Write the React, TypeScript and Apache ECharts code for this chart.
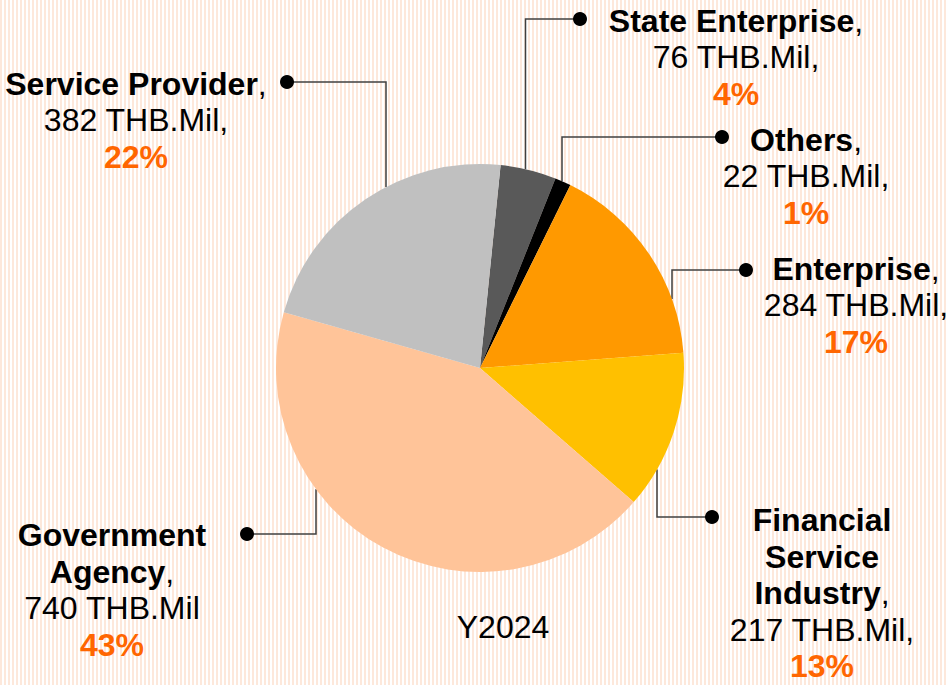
import { useEffect, useRef } from "react";
import * as echarts from "echarts";

// ---- data ----
const categories = [
  "State Enterprise",
  "Others",
  "Enterprise",
  "Financial Service Industry",
  "Government Agency",
  "Service Provider",
];
const values = [76, 22, 284, 217, 740, 382];
const nameLines = [
  ["State Enterprise"],
  ["Others"],
  ["Enterprise"],
  ["Financial", "Service", "Industry"],
  ["Government", "Agency"],
  ["Service Provider"],
];
const amountSuffix = [",", ",", ",", ",", "", ","];
const unit = "THB.Mil";
const yearLabel = "Y2024";
const colors = ["#595959", "#000000", "#ff9900", "#ffc000", "#ffc499", "#c0c0c0"];

// ---- layout ----
const CX = 480;
const CY = 368;
const R = 204;
const FONT = '"Liberation Sans", Arial, sans-serif';
const FS = 32;
const LH = 36.5;
const labelLayoutCfg = [
  { x: 736, y: 57, lineX: 525.5, elbowY: 19, dotX: 580 },
  { x: 806, y: 176, lineX: 562, elbowY: 137, dotX: 722 },
  { x: 856, y: 305, lineX: 672, elbowY: 270, dotX: 746 },
  { x: 822, y: 593, lineX: 657, elbowY: 517, dotX: 712 },
  { x: 112, y: 590, lineX: 316, elbowY: 534, dotX: 247 },
  { x: 136, y: 120, lineX: 386, elbowY: 82, dotX: 287 },
];

export default function App() {
  const ref = useRef<HTMLDivElement>(null);

  useEffect(() => {
    if (!ref.current) return;
    const chart = echarts.init(ref.current, null, { renderer: "svg" });
    const total = values.reduce((a, b) => a + b, 0);

    const data = categories.map((name, i) => ({
      name,
      value: values[i],
      itemStyle: { color: colors[i] },
    }));

    chart.setOption({
      animation: false,
      backgroundColor: "transparent",
      series: [
        {
          type: "pie",
          center: [CX, CY],
          radius: R,
          startAngle: 84.2,
          clockwise: true,
          data,
          silent: true,
          emphasis: { disabled: true },
          itemStyle: { borderWidth: 0 },
          label: {
            show: true,
            position: "outside",
            fontFamily: FONT,
            fontSize: FS,
            lineHeight: LH,
            color: "#000000",
            align: "center",
            formatter: (p: any) => {
              const i = p.dataIndex;
              const pct = Math.round((values[i] / total) * 100);
              const lines = nameLines[i].map((l, k) =>
                k === nameLines[i].length - 1 ? `{b|${l}},` : `{b|${l}}`
              );
              lines.push(`${values[i]} ${unit}${amountSuffix[i]}`);
              lines.push(`{p|${pct}%}`);
              return lines.join("\n");
            },
            rich: {
              b: {
                fontFamily: FONT,
                fontSize: FS,
                lineHeight: LH,
                fontWeight: "bold",
                color: "#000000",
              },
              p: {
                fontFamily: FONT,
                fontSize: FS,
                lineHeight: LH,
                fontWeight: "bold",
                color: "#ff6600",
              },
            },
          },
          labelLine: {
            show: true,
            lineStyle: { color: "#404040", width: 1.5 },
          },
          labelLayout: (params: any) => {
            const c = labelLayoutCfg[params.dataIndex];
            const dx = c.lineX - CX;
            const dy = Math.sqrt(Math.max(0, R * R - dx * dx));
            const ay = c.elbowY < CY ? CY - dy : CY + dy;
            return {
              x: c.x,
              y: c.y,
              align: "center",
              verticalAlign: "middle",
              labelLinePoints: [
                [c.lineX, ay],
                [c.lineX, c.elbowY],
                [c.dotX, c.elbowY],
              ],
            };
          },
        },
      ],
      graphic: [
        ...labelLayoutCfg.map((c) => ({
          type: "circle",
          shape: { cx: c.dotX, cy: c.elbowY, r: 7 },
          style: { fill: "#000000" },
          z: 10,
        })),
        {
          type: "text",
          x: 503,
          y: 627,
          style: {
            text: yearLabel,
            fontFamily: FONT,
            fontSize: 32,
            fill: "#000000",
            align: "center",
            verticalAlign: "middle",
          },
        },
      ],
    });

    return () => chart.dispose();
  }, []);

  return (
    <div
      style={{
        position: "absolute",
        left: 0,
        top: 0,
        width: 947,
        height: 685,
        background:
          "repeating-linear-gradient(90deg, #fde8db 0px, #fde8db 2px, #ffffff 2px, #ffffff 4px)",
      }}
    >
      <div ref={ref} style={{ width: 947, height: 685 }} />
    </div>
  );
}
